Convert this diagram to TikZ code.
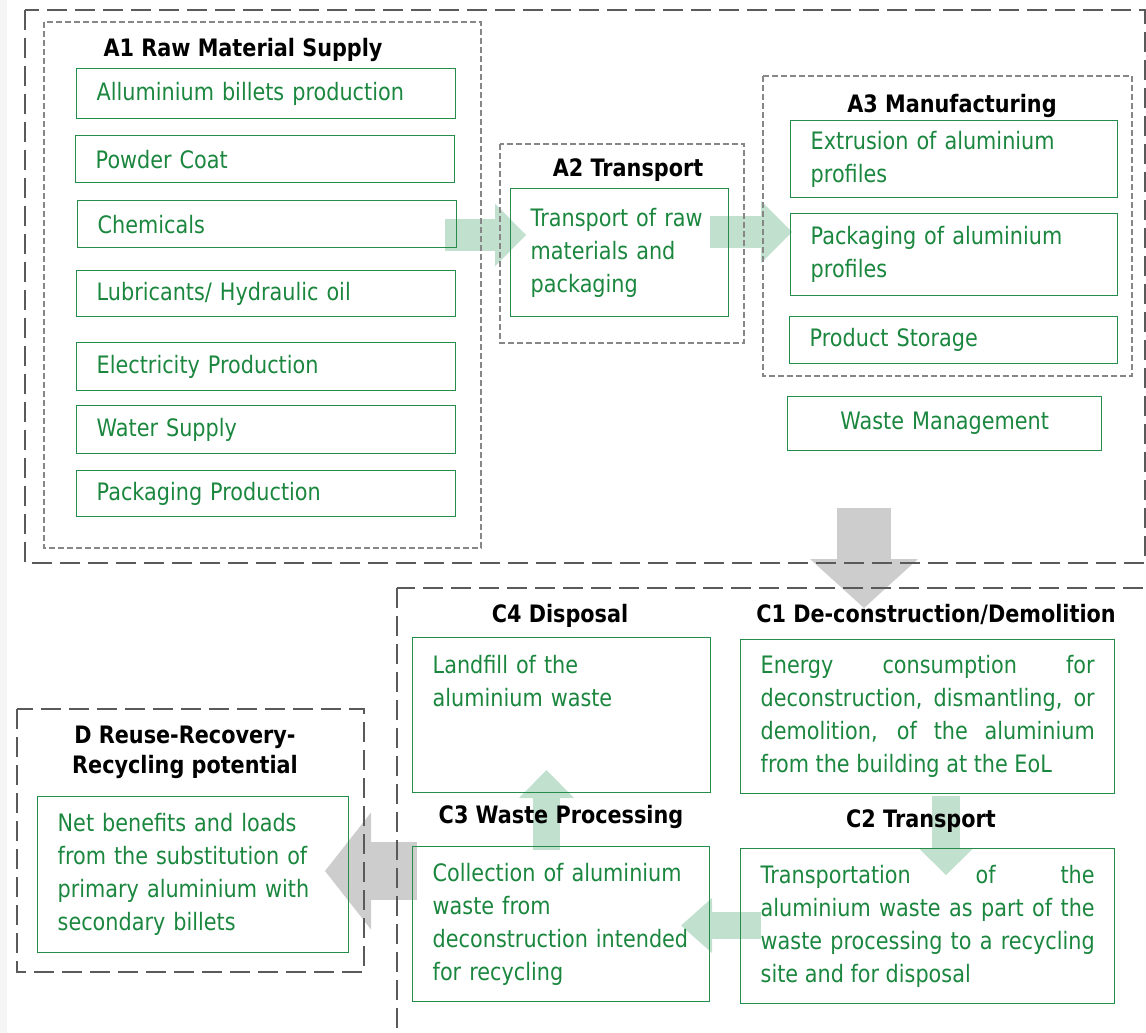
\documentclass[tikz,border=0pt]{standalone}
\usepackage{fontspec}
\setmainfont{DejaVu Sans}[FakeStretch=0.866]
\usetikzlibrary{arrows.meta}
\definecolor{txtgreen}{RGB}{26,134,62}
\definecolor{boxgreen}{RGB}{38,140,74}
\definecolor{arrgreen}{RGB}{194,224,206}
\definecolor{arrgray}{RGB}{205,205,205}
\definecolor{framegray}{RGB}{90,90,90}
\definecolor{dashgray}{RGB}{135,135,135}
\pgfdeclarelayer{background}
\pgfsetlayers{background,main}
\tikzset{
  gbox/.style={draw=boxgreen,line width=1.4pt,text=txtgreen,anchor=north west,
    font=\fontsize{24}{33}\selectfont,inner xsep=20pt,inner ysep=0pt,align=left},
  ptitle/.style={font=\bfseries\fontsize{24}{30}\selectfont,anchor=base},
  bigframe/.style={draw=framegray,line width=2.5pt,dash pattern=on 20pt off 8pt},
  smallframe/.style={draw=dashgray,line width=2pt,dash pattern=on 6pt off 3pt},
  flowarrow/.style n args={3}{line width=#1,-{Triangle[width=#2,length=#3,line width=0pt]}}
}
\begin{document}
\begin{tikzpicture}[x=1pt,y=-1pt]
\useasboundingbox (0,0) rectangle (1146,1033);
\clip (0,0) rectangle (1146,1033);
\fill[black!4] (0,0) rectangle (7,1033);
\draw[bigframe] (25,10) rectangle (1145,563);
\draw[smallframe] (44,22) rectangle (481,548);
\draw[smallframe] (500,144) rectangle (744,343);
\draw[smallframe] (763,76) rectangle (1132,376);
\draw[bigframe] (397,588) rectangle (1180,1060);
\draw[bigframe] (17,709) rectangle (364,972);
\node[ptitle] (a1tit) at (243,57) {A1 Raw Material Supply};
\node[gbox,text width=339pt,minimum height=50pt] (a1alu) at (76,68) {Alluminium billets production};
\node[gbox,text width=339pt,minimum height=47pt] (a1pow) at (75,135) {Powder Coat};
\node[gbox,text width=339pt,minimum height=47pt] (a1che) at (77,200) {Chemicals};
\node[gbox,text width=339pt,minimum height=46pt] (a1lub) at (76,270) {Lubricants/ Hydraulic oil};
\node[gbox,text width=339pt,minimum height=48pt] (a1ele) at (76,342) {Electricity Production};
\node[gbox,text width=339pt,minimum height=48pt] (a1wat) at (76,405) {Water Supply};
\node[gbox,text width=339pt,minimum height=46pt] (a1pac) at (76,470) {Packaging Production};
\node[ptitle] (a2tit) at (628,176) {A2 Transport};
\node[gbox,text width=178pt,minimum height=128pt] (a2tra) at (510,188) {Transport of raw\\materials and\\packaging};
\node[ptitle] (a3tit) at (952,112) {A3 Manufacturing};
\node[gbox,text width=287pt,minimum height=77pt] (a3ext) at (790,120) {Extrusion of aluminium\\profiles};
\node[gbox,text width=287pt,minimum height=82pt] (a3pac) at (790,213) {Packaging of aluminium\\profiles};
\node[gbox,text width=288pt,minimum height=47pt] (a3sto) at (789,316) {Product Storage};
\node[gbox,text width=274pt,minimum height=54pt,align=center] (a3was) at (787,396) {Waste Management};
\node[ptitle] (c4tit) at (560,622) {C4 Disposal};
\node[gbox,text width=258pt,text height=36pt,text depth=119pt] (c4lan) at (412,637) {Landfill of the\\aluminium waste};
\node[ptitle] (c1tit) at (936,622) {C1 De-construction/Demolition};
\node[gbox,text width=334pt,minimum height=154pt,align=justify] (c1ene) at (740,639) {Energy consumption for\linebreak deconstruction, dismantling, or\linebreak demolition, of the aluminium\linebreak from the building at the EoL};
\node[ptitle] (c2tit) at (921,827) {C2 Transport};
\node[gbox,text width=334pt,minimum height=155pt,align=justify] (c2tra) at (740,848) {Transportation of the\linebreak aluminium waste as part of the\linebreak waste processing to a recycling\linebreak site and for disposal};
\node[ptitle] (c3tit) at (561,823) {C3 Waste Processing};
\node[gbox,text width=257pt,minimum height=155pt] (c3col) at (412,846) {Collection of aluminium\\waste from\\deconstruction intended\\for recycling};
\node[ptitle,align=center] (dtit) at (185,773) {D Reuse-Recovery-\\Recycling potential};
\node[gbox,text width=271pt,minimum height=156pt] (dnet) at (37,796) {Net benefits and loads\\from the substitution of\\primary aluminium with\\secondary billets};
\coordinate (arrA1s) at (445,235);
\coordinate (arrA1e) at (526,235);
\coordinate (arrA2s) at (710,232);
\coordinate (arrA2e) at (792,232);
\coordinate (arrACs) at (864,508);
\coordinate (arrACe) at (864,608);
\coordinate (arrC1s) at (946,796);
\coordinate (arrC1e) at (946,875);
\coordinate (arrC2s) at (761,925.5);
\coordinate (arrC2e) at (681,925.5);
\coordinate (arrC3s) at (546.5,850);
\coordinate (arrC3e) at (546.5,770);
\coordinate (arrCDs) at (417,871);
\coordinate (arrCDe) at (325,871);
\begin{pgfonlayer}{background}
\draw[arrgreen,flowarrow={32pt}{63pt}{31pt}] (arrA1s) -- (arrA1e);
\draw[arrgreen,flowarrow={32pt}{62pt}{31pt}] (arrA2s) -- (arrA2e);
\draw[arrgray,flowarrow={54pt}{108pt}{49pt}] (arrACs) -- (arrACe);
\draw[arrgreen,flowarrow={28pt}{55pt}{27pt}] (arrC1s) -- (arrC1e);
\draw[arrgreen,flowarrow={27pt}{55pt}{31pt}] (arrC2s) -- (arrC2e);
\draw[arrgreen,flowarrow={27pt}{55pt}{28pt}] (arrC3s) -- (arrC3e);
\draw[arrgray,flowarrow={58pt}{117pt}{46pt}] (arrCDs) -- (arrCDe);
\end{pgfonlayer}
\end{tikzpicture}
\end{document}
